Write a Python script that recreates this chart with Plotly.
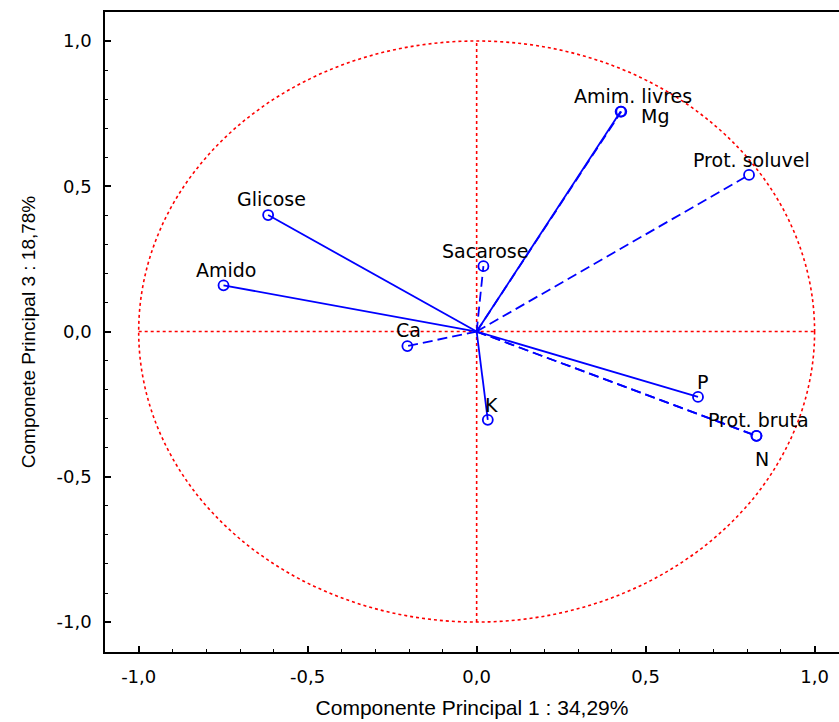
import plotly.graph_objects as go

# ---- data ----
variables = ["Amim. livres", "Mg", "Prot. soluvel", "Glicose", "Amido", "Sacarose",
             "Ca", "K", "P", "Prot. bruta", "N"]
pc1 = [0.426, 0.428, 0.806, -0.617, -0.749, 0.020, -0.205, 0.033, 0.655, 0.828, 0.828]
pc3 = [0.757, 0.757, 0.539, 0.401, 0.159, 0.225, -0.050, -0.304, -0.225, -0.359, -0.359]
line_style = ["solid", "dash", "dash", "solid", "solid", "dash", "dash", "solid", "solid", "dash", "dash"]

tick_vals = [-1.0, -0.5, 0.0, 0.5, 1.0]
tick_text = ["-1,0", "-0,5", "0,0", "0,5", "1,0"]

x_title = "Componente Principal 1 : 34,29%"
y_title = "Componete Principal 3 : 18,78%"

# label offsets in pixels (styling)
label_shift = {
    "Amim. livres": (12, 16), "Mg": (34, -4), "Prot. soluvel": (2, 15),
    "Glicose": (3, 16), "Amido": (2, 15), "Sacarose": (2, 15), "Ca": (1, 16),
    "K": (4, 15), "P": (4, 15), "Prot. bruta": (2, 16), "N": (6, -23),
}

BLUE = "#0000ff"
RED = "#ff0000"

fig = go.Figure()

for name, xv, yv, ls in zip(variables, pc1, pc3, line_style):
    fig.add_trace(go.Scatter(
        x=[0, xv], y=[0, yv], mode="lines",
        line=dict(color=BLUE, width=1.8, dash="10px,5px" if ls == "dash" else "solid"),
        showlegend=False, hoverinfo="skip"))

fig.add_trace(go.Scatter(
    x=pc1, y=pc3, mode="markers",
    marker=dict(symbol="circle-open", size=10, color=BLUE, line=dict(width=1.8, color=BLUE)),
    text=variables, showlegend=False))

for name, xv, yv in zip(variables, pc1, pc3):
    dx, dy = label_shift[name]
    fig.add_annotation(x=xv, y=yv, text=name, showarrow=False,
                       xshift=dx, yshift=dy,
                       font=dict(family="DejaVu Sans", size=19, color="black"))

# unit circle and axes through origin
fig.add_shape(type="circle", xref="x", yref="y", x0=-1, y0=-1, x1=1, y1=1,
              line=dict(color=RED, width=1.6, dash="dot"), layer="below")
fig.add_shape(type="line", xref="x", yref="y", x0=-1, y0=0, x1=1, y1=0,
              line=dict(color=RED, width=1.6, dash="dot"), layer="below")
fig.add_shape(type="line", xref="x", yref="y", x0=0, y0=-1, x1=0, y1=1,
              line=dict(color=RED, width=1.6, dash="dot"), layer="below")

axis_common = dict(
    showgrid=False, zeroline=False, showline=True, linecolor="black", linewidth=1.5,
    ticks="inside", ticklen=6, tickwidth=1.5, tickcolor="black",
    tickmode="array", tickvals=tick_vals, ticktext=tick_text,
    tickfont=dict(family="DejaVu Sans", size=18, color="black"),
    ticklabelstandoff=8,
    minor=dict(ticks="inside", ticklen=3, tickwidth=1.2, tickcolor="black", dtick=0.1,
               tick0=0, showgrid=False),
)

fig.update_layout(
    width=839, height=722,
    margin=dict(l=105, r=0, t=12, b=70),
    paper_bgcolor="white", plot_bgcolor="white",
    xaxis=dict(range=[-1.0997, 1.0722], mirror=True,
               title=dict(text=x_title, standoff=14,
                          font=dict(family="Liberation Sans", size=21, color="black")),
               **axis_common),
    yaxis=dict(range=[-1.103, 1.0998], mirror=False,
               title=dict(text=y_title, standoff=16,
                          font=dict(family="Liberation Sans", size=19, color="black")),
               **axis_common),
)

fig.write_html("out.html")
